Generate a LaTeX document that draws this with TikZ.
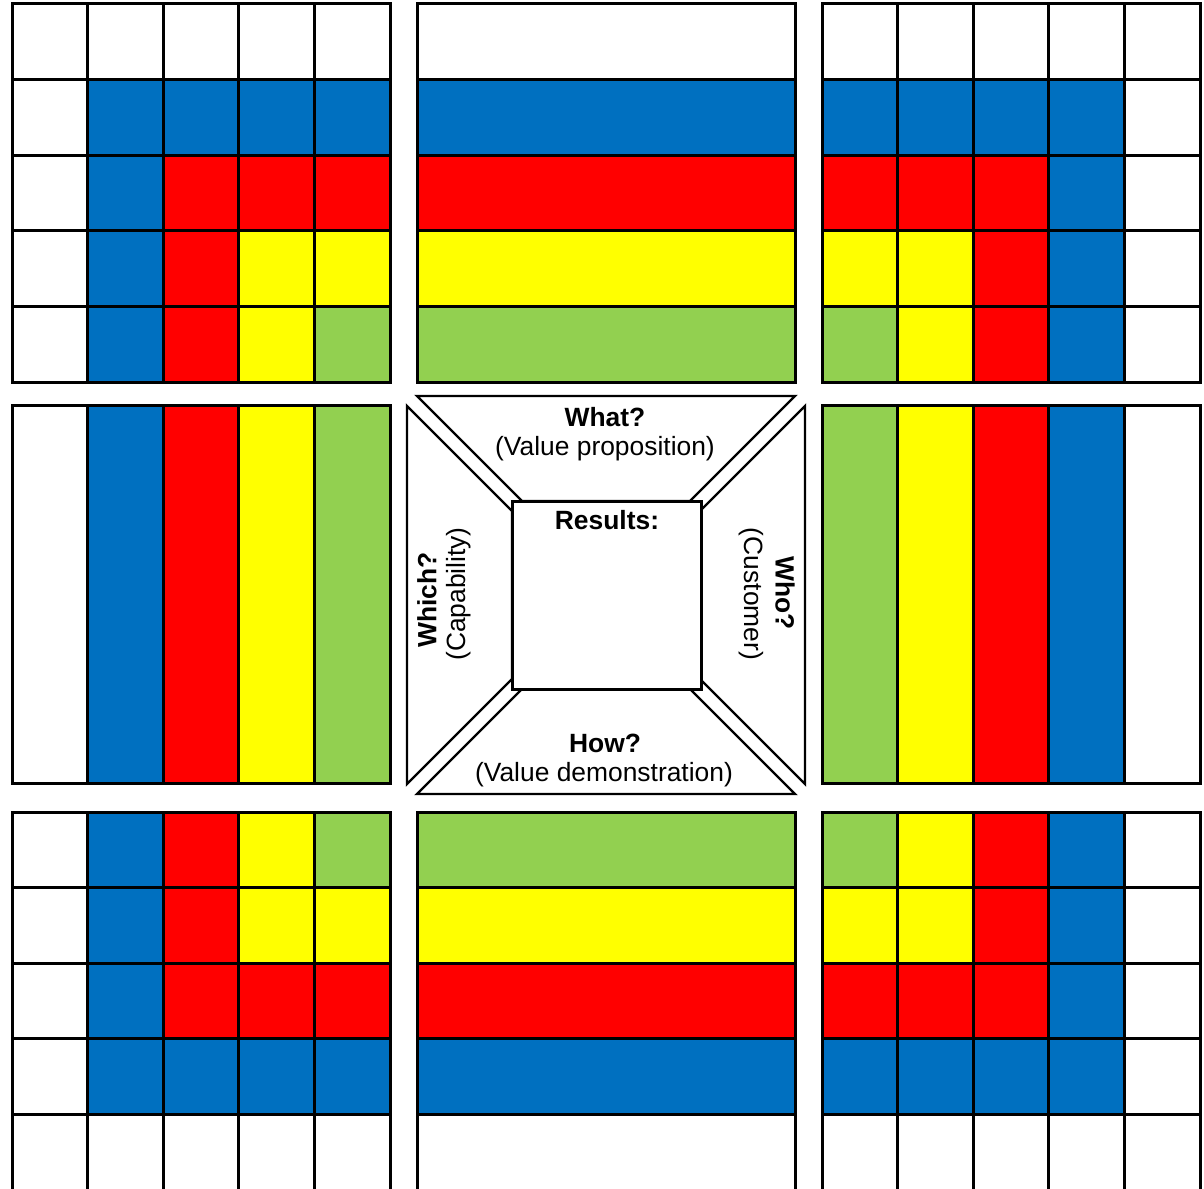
\documentclass[tikz,border=0pt]{standalone}
\usepackage{fontspec}
\setmainfont{Liberation Sans}
\usepackage{xcolor}
\usetikzlibrary{positioning}

\definecolor{tone0}{RGB}{255,255,255}
\definecolor{tone1}{RGB}{0,112,192}
\definecolor{tone2}{RGB}{255,0,0}
\definecolor{tone3}{RGB}{255,255,0}
\definecolor{tone4}{RGB}{146,208,80}

\begin{document}
\begin{tikzpicture}[
  x=0.5pt, y=-0.5pt,
  font=\fontsize{13.2}{15.8}\selectfont,
  cell/.style={draw=black, line width=1.5pt},
  trap/.style={draw=black, line width=1.2pt, fill=white},
  ask/.style={font=\fontsize{13.2}{15.8}\selectfont\bfseries, inner sep=0pt},
  note/.style={inner sep=0pt}
]
  \useasboundingbox (0,0) rectangle (1204,1188);

  %% corner blocks
  \foreach \bx/\by/\fr/\fc in {12/4/0/0, 822/4/0/1, 12/812/1/0, 822/812/1/1}
    \foreach \r in {0,...,4}
      \foreach \c in {0,...,4} {
        \pgfmathtruncatemacro\lv{min(abs(4*\fr-\r),abs(4*\fc-\c))}
        \draw[cell, fill=tone\lv] ({\bx+75.6*\c},{\by+75.6*\r}) rectangle ++(75.6,75.6);
      }

  %% band blocks
  \foreach \r in {0,...,4} {
    \pgfmathtruncatemacro\lv{4-\r}
    \draw[cell, fill=tone\r] (417,{4+75.6*\r}) rectangle ++(378,75.6);
    \draw[cell, fill=tone\lv] (417,{812+75.6*\r}) rectangle ++(378,75.6);
  }
  \foreach \c in {0,...,4} {
    \pgfmathtruncatemacro\lv{4-\c}
    \draw[cell, fill=tone\c] ({12+75.6*\c},405.5) rectangle ++(75.6,378);
    \draw[cell, fill=tone\lv] ({822+75.6*\c},405.5) rectangle ++(75.6,378);
  }

  %% centre frame
  \begin{scope}[shift={(606,595)}]
    \foreach \a in {0,90,180,270}
      \draw[trap, rotate=\a] (-189,-199) -- (189,-199) -- (84,-94) -- (-84,-94) -- cycle;
  \end{scope}
  \node[draw, line width=1.2pt, fill=white, inner sep=0pt,
        minimum width=94.5pt, minimum height=94pt] (res) at (607,595.5) {};
  \node[ask] (restitle) at (607,520) {Results:};

  \node[ask] (what) at (605,417) {What?};
  \node[note] (whatsub) at (605,449) {(Value proposition)};
  \node[ask] (how) at (605,743) {How?};
  \node[note] (howsub) at (604,775) {(Value demonstration)};
  \node[ask, rotate=90] (which) at (427,600) {Which?};
  \node[note, rotate=90] (whichsub) at (459,594) {(Capability)};
  \node[ask, rotate=-90] (who) at (785,593) {Who?};
  \node[note, rotate=-90] (whosub) at (751,594) {(Customer)};
\end{tikzpicture}
\end{document}
